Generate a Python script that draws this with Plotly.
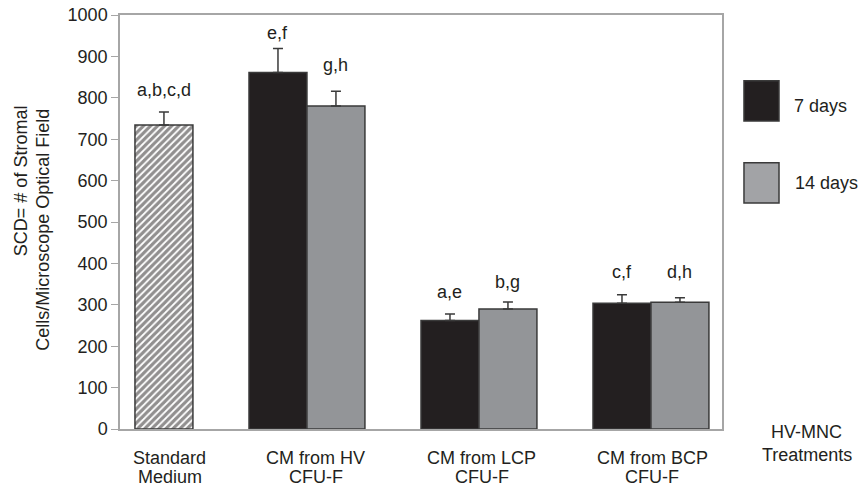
import plotly.graph_objects as go

# ---- data ----
categories_line1 = ["Standard", "CM from HV", "CM from LCP", "CM from BCP"]
categories_line2 = ["Medium", "CFU-F", "CFU-F", "CFU-F"]
standard_value = [734]
standard_err = [32]
days7_values = [861, 262, 304]
days7_err = [58, 16, 20]
days14_values = [780, 290, 306]
days14_err = [36, 17, 11]
standard_letters = ["a,b,c,d"]
days7_letters = ["e,f", "a,e", "c,f"]
days14_letters = ["g,h", "b,g", "d,h"]
standard_letter_y = [819]
days7_letter_y = [957, 331, 379]
days14_letter_y = [879, 355, 379]
y_ticks = list(range(0, 1001, 100))

FONT = "Liberation Sans, Arial, sans-serif"
BLACK = "#231f20"
GREY = "#939598"
EDGE = "#3a3a3a"
AX = "#a6a6a6"
W = 0.337

cat_pos = [0, 1, 2, 3]
label_pos = [0.203, 1.052, 2.017, 3.006]

fig = go.Figure()

fig.add_trace(go.Bar(
    x=[cat_pos[0]], y=standard_value, width=[W], offset=0,
    marker=dict(color="white", line=dict(color=EDGE, width=1.5),
                pattern=dict(shape="/", fgcolor=BLACK, bgcolor="white", size=5, solidity=0.65)),
    error_y=dict(type="data", symmetric=False, array=standard_err, arrayminus=[0],
                 color=EDGE, thickness=1.5, width=5),
    showlegend=False,
))
fig.add_trace(go.Bar(
    x=cat_pos[1:], y=days7_values, width=W, offset=-W, name="7 days",
    marker=dict(color=BLACK, line=dict(color=EDGE, width=1.5)),
    error_y=dict(type="data", symmetric=False, array=days7_err, arrayminus=[0]*3,
                 color=EDGE, thickness=1.5, width=5),
    showlegend=False,
))
fig.add_trace(go.Bar(
    x=cat_pos[1:], y=days14_values, width=W, offset=0, name="14 days",
    marker=dict(color=GREY, line=dict(color=EDGE, width=1.5)),
    error_y=dict(type="data", symmetric=False, array=days14_err, arrayminus=[0]*3,
                 color=EDGE, thickness=1.5, width=5),
    showlegend=False,
))

ann = []
tf = dict(family=FONT, size=18, color="#231f20")
C = dict(showarrow=False, font=tf, xanchor="center", yanchor="middle")
# significance letters
ann.append(dict(x=cat_pos[0] + W/2, y=standard_letter_y[0], xref="x", yref="y",
                text=standard_letters[0], **C))
for i in range(3):
    ann.append(dict(x=cat_pos[i+1] - W/2, y=days7_letter_y[i], xref="x", yref="y",
                    text=days7_letters[i], **C))
    ann.append(dict(x=cat_pos[i+1] + W/2, y=days14_letter_y[i], xref="x", yref="y",
                    text=days14_letters[i], **C))
# category labels (two lines each)
for p, l1, l2 in zip(label_pos, categories_line1, categories_line2):
    ann.append(dict(x=p, y=-0.070, xref="x", yref="paper", text=l1, **C))
    ann.append(dict(x=p, y=-0.116, xref="x", yref="paper", text=l2, **C))
ann.append(dict(x=1.141, y=-0.007, xref="paper", yref="paper", text="HV-MNC", **C))
ann.append(dict(x=1.141, y=-0.063, xref="paper", yref="paper", text="Treatments", **C))
# y title
ann.append(dict(x=-0.1645, y=0.601, xref="paper", yref="paper", text="SCD= # of Stromal",
                textangle=-90, **C))
ann.append(dict(x=-0.128, y=0.481, xref="paper", yref="paper", text="Cells/Microscope Optical Field",
                textangle=-90, **C))
# legend text
ann.append(dict(x=1.116, y=0.780, xref="paper", yref="paper", text="7 days", showarrow=False,
                font=tf, xanchor="left", yanchor="middle"))
ann.append(dict(x=1.118, y=0.594, xref="paper", yref="paper", text="14 days", showarrow=False,
                font=tf, xanchor="left", yanchor="middle"))

shapes = [
    dict(type="rect", xref="paper", yref="paper", x0=1.0365, x1=1.0947, y0=0.744, y1=0.841,
         fillcolor=BLACK, line=dict(color=EDGE, width=1.5)),
    dict(type="rect", xref="paper", yref="paper", x0=1.0365, x1=1.0947, y0=0.546, y1=0.643,
         fillcolor="#a2a3a6", line=dict(color=EDGE, width=1.5)),
]

fig.update_layout(
    width=858, height=487,
    margin=dict(l=120, r=136, t=15, b=58, autoexpand=False),
    paper_bgcolor="white", plot_bgcolor="white",
    barmode="overlay",
    font=dict(family=FONT, size=18, color="#231f20"),
    annotations=ann, shapes=shapes,
    xaxis=dict(range=[-0.087, 3.413], showticklabels=False, ticks="", showgrid=False,
               zeroline=False, showline=True, linecolor=AX, linewidth=1.5, mirror=True,
               automargin=False),
    yaxis=dict(range=[0, 1000], tickvals=y_ticks, ticks="outside", ticklen=7, tickcolor=AX,
               tickwidth=1.2, showgrid=False, zeroline=False, showline=True, linecolor=AX,
               linewidth=1.5, mirror=True, automargin=False, ticklabeloverflow="allow",
               tickfont=dict(family=FONT, size=18, color="#231f20")),
)

fig.write_html(
    "out.html",
    config={"displayModeBar": False},
    post_script="document.body.style.margin='0';document.body.style.overflow='hidden';",
)
